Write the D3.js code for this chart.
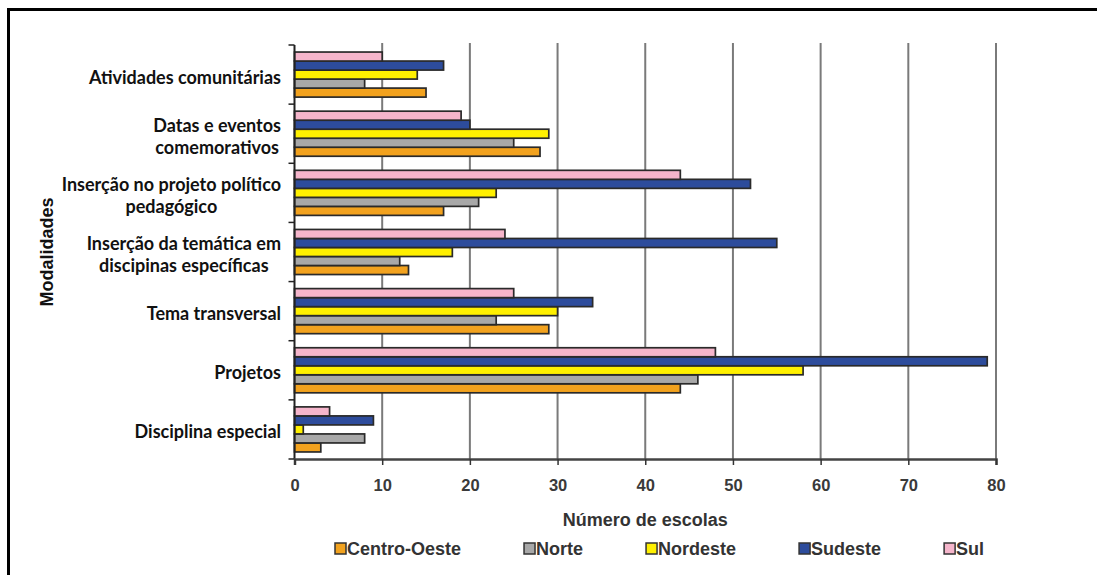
<!DOCTYPE html>
<html>
<head>
<meta charset="utf-8">
<script src="https://cdn.jsdelivr.net/npm/d3@7/dist/d3.min.js"></script>
<style>
  html, body { margin: 0; padding: 0; background: #fff; }
  svg { display: block; }
</style>
</head>
<body>
<svg id="chart" width="1097" height="575"></svg>
<script>
// Modalidades de educação — número de escolas por região
const categories = [
  "Atividades comunitárias",
  "Datas e eventos comemorativos",
  "Inserção no projeto político pedagógico",
  "Inserção da temática em discipinas específicas",
  "Tema transversal",
  "Projetos",
  "Disciplina especial"
];
const categoryLines = [
  ["Atividades comunitárias"],
  ["Datas e eventos", "comemorativos"],
  ["Inserção no projeto político", "pedagógico"],
  ["Inserção da temática em", "discipinas específicas"],
  ["Tema transversal"],
  ["Projetos"],
  ["Disciplina especial"]
];
const regions = ["Centro-Oeste", "Norte", "Nordeste", "Sudeste", "Sul"];
const centroOeste = [15, 28, 17, 13, 29, 44, 3];
const norte       = [8, 25, 21, 12, 23, 46, 8];
const nordeste    = [14, 29, 23, 18, 30, 58, 1];
const sudeste     = [17, 20, 52, 55, 34, 79, 9];
const sul         = [10, 19, 44, 24, 25, 48, 4];
const xTicks = [0, 10, 20, 30, 40, 50, 60, 70, 80];
const regionColors = ["#F2A21E", "#A8A8A8", "#FFF000", "#2D4C9C", "#F5B5CB"];

const seriesValues = [centroOeste, norte, nordeste, sudeste, sul];

const svg = d3.select("#chart");

// outer frame (top and left edges)
svg.append("path")
  .attr("d", "M8.5,575 L8.5,9.5 L1097,9.5")
  .attr("fill", "none").attr("stroke", "#000").attr("stroke-width", 3);

const plot = { left: 294.5, right: 996, top: 45, bottom: 459 };

const x = d3.scaleLinear().domain([0, 80]).range([plot.left, plot.right]);
const y = d3.scaleBand().domain(categories).range([plot.top, plot.bottom])
  .paddingInner(0.238).paddingOuter(0.119);
// within a category, the last region sits on top
const yInner = d3.scaleBand().domain(regions.slice().reverse()).range([0, y.bandwidth()]);
const step = y.step();

// vertical gridlines
svg.append("g").selectAll("line").data(xTicks.slice(1)).join("line")
  .attr("x1", d => x(d)).attr("x2", d => x(d))
  .attr("y1", plot.top - 2).attr("y2", plot.bottom)
  .attr("stroke", "#7a7a7a").attr("stroke-width", 2);

// bars
const rows = [];
categories.forEach((c, i) => {
  regions.forEach((r, k) => rows.push({ cat: c, region: r, value: seriesValues[k][i], color: regionColors[k] }));
});
svg.append("g").selectAll("rect").data(rows).join("rect")
  .attr("x", x(0))
  .attr("y", d => y(d.cat) + yInner(d.region))
  .attr("width", d => x(d.value) - x(0))
  .attr("height", yInner.bandwidth())
  .attr("fill", d => d.color)
  .attr("stroke", "#2a2a2a").attr("stroke-width", 1.7);

// y axis with ticks at category boundaries
const yAxisG = svg.append("g");
yAxisG.append("line")
  .attr("x1", plot.left).attr("x2", plot.left)
  .attr("y1", plot.top).attr("y2", plot.bottom)
  .attr("stroke", "#222").attr("stroke-width", 2);
const boundaries = d3.range(categories.length + 1).map(i => plot.top + i * step);
yAxisG.selectAll("line.tk").data(boundaries).join("line").attr("class", "tk")
  .attr("x1", plot.left - 6).attr("x2", plot.left)
  .attr("y1", d => d).attr("y2", d => d)
  .attr("stroke", "#222").attr("stroke-width", 1.5);

// x axis
const xAxis = d3.axisBottom(x).tickValues(xTicks).tickSize(6).tickPadding(14);
const xAxisG = svg.append("g").attr("transform", `translate(0,${plot.bottom})`).call(xAxis);
xAxisG.select(".domain").attr("stroke", "#444").attr("stroke-width", 2.5);
xAxisG.selectAll(".tick line").attr("stroke", "#333").attr("stroke-width", 1.5);
xAxisG.selectAll(".tick text")
  .attr("font-family", "'Liberation Sans', Arial, sans-serif")
  .attr("font-size", 16.5).attr("font-weight", "bold").attr("fill", "#3a3a3a");

// category labels: centred block, right edge at labelRight
const labelRight = 281;
const lineGap = 22;
const labelG = svg.append("g")
  .attr("font-family", "Lato, 'Open Sans', sans-serif")
  .attr("font-size", 18).attr("font-weight", "bold").attr("fill", "#111");
categories.forEach((c, i) => {
  const lines = categoryLines[i];
  const cy = y(c) + y.bandwidth() / 2 + 2;
  const t = labelG.append("text").attr("text-anchor", "middle").attr("dominant-baseline", "central");
  const spans = lines.map((ln, j) => t.append("tspan")
    .attr("y", cy + (j - (lines.length - 1) / 2) * lineGap).text(ln));
  const maxW = d3.max(spans, s => s.node().getComputedTextLength());
  spans.forEach(s => s.attr("x", labelRight - maxW / 2));
});

// axis titles
svg.append("text")
  .attr("transform", "translate(47,252) rotate(-90)")
  .attr("text-anchor", "middle").attr("dominant-baseline", "central")
  .attr("font-family", "'Liberation Sans', Arial, sans-serif")
  .attr("font-size", 18).attr("font-weight", "bold").attr("fill", "#111")
  .text("Modalidades");

svg.append("text")
  .attr("x", (plot.left + plot.right) / 2).attr("y", 520)
  .attr("text-anchor", "middle").attr("dominant-baseline", "central")
  .attr("font-family", "'Liberation Sans', Arial, sans-serif")
  .attr("font-size", 18).attr("font-weight", "bold").attr("fill", "#333")
  .text("Número de escolas");

// legend
const legend = svg.append("g").attr("transform", "translate(335,549)");
let lx = 0;
regions.forEach((r, k) => {
  const g = legend.append("g").attr("transform", `translate(${lx},0)`);
  g.append("rect").attr("x", 0).attr("y", -6).attr("width", 11).attr("height", 11)
    .attr("fill", regionColors[k]).attr("stroke", "#333").attr("stroke-width", 1.5);
  const t = g.append("text").attr("x", 12).attr("dominant-baseline", "central")
    .attr("font-family", "'Liberation Sans', Arial, sans-serif")
    .attr("font-size", 18).attr("font-weight", "bold").attr("fill", "#333")
    .text(r);
  lx += 12 + t.node().getComputedTextLength() + 63;
});
</script>
</body>
</html>
